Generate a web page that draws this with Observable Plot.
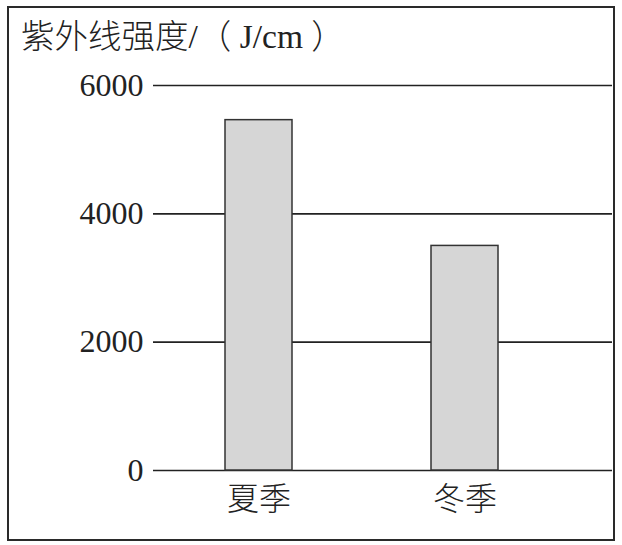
<!DOCTYPE html>
<html>
<head>
<meta charset="utf-8">
<script src="https://cdn.jsdelivr.net/npm/d3@7"></script>
<script src="https://cdn.jsdelivr.net/npm/@observablehq/plot@0.6"></script>
<style>
  html, body { margin: 0; padding: 0; background: #fff; }
  #wrap { position: relative; width: 622px; height: 545px; overflow: hidden; background: #fff; }
  #frame { position: absolute; left: 7px; top: 6px; width: 604px; height: 531px; border: 2px solid #2a2a2a; }
  #title { position: absolute; left: 21px; top: 16px; font-family: "Liberation Serif", "Noto Sans CJK SC", serif; font-size: 33.5px; font-weight: 300; color: #222; line-height: 42px; white-space: pre; }
  #chart { position: absolute; left: 0; top: 0; }
</style>
</head>
<body>
<div id="wrap">
  <div id="frame"></div>
  <div id="chart"></div>
  <div id="title">紫外线强度/（ J/cm ）</div>
</div>
<script>
const categories = ["夏季", "冬季"];
const values = [5460, 3500];
const yTicks = [0, 2000, 4000, 6000];

const data = categories.map((c, i) => ({season: c, value: values[i]}));

const chart = Plot.plot({
  width: 622,
  height: 545,
  marginTop: 85,
  marginBottom: 75,
  marginLeft: 153,
  marginRight: 10,
  style: {background: "transparent", color: "#222"},
  x: {domain: categories, paddingInner: 0.675, paddingOuter: 0.4515, align: 0.387, label: null},
  y: {domain: [0, 6000], label: null},
  marks: [
    Plot.ruleY(yTicks, {stroke: "#222", strokeWidth: 1.6}),
    Plot.barY(data, {x: "season", y: "value", fill: "#d6d6d6", stroke: "#333", strokeWidth: 1.5}),
    Plot.axisY(yTicks, {tickSize: 0, tickPadding: 10, fontSize: 32, fontFamily: "Liberation Serif", tickFormat: d => String(d), label: null}),
    Plot.axisX({tickSize: 0, tickPadding: 17, fontSize: 32, fontWeight: 300, fontFamily: "Noto Sans CJK SC", label: null})
  ]
});
document.getElementById("chart").appendChild(chart);
</script>
</body>
</html>
